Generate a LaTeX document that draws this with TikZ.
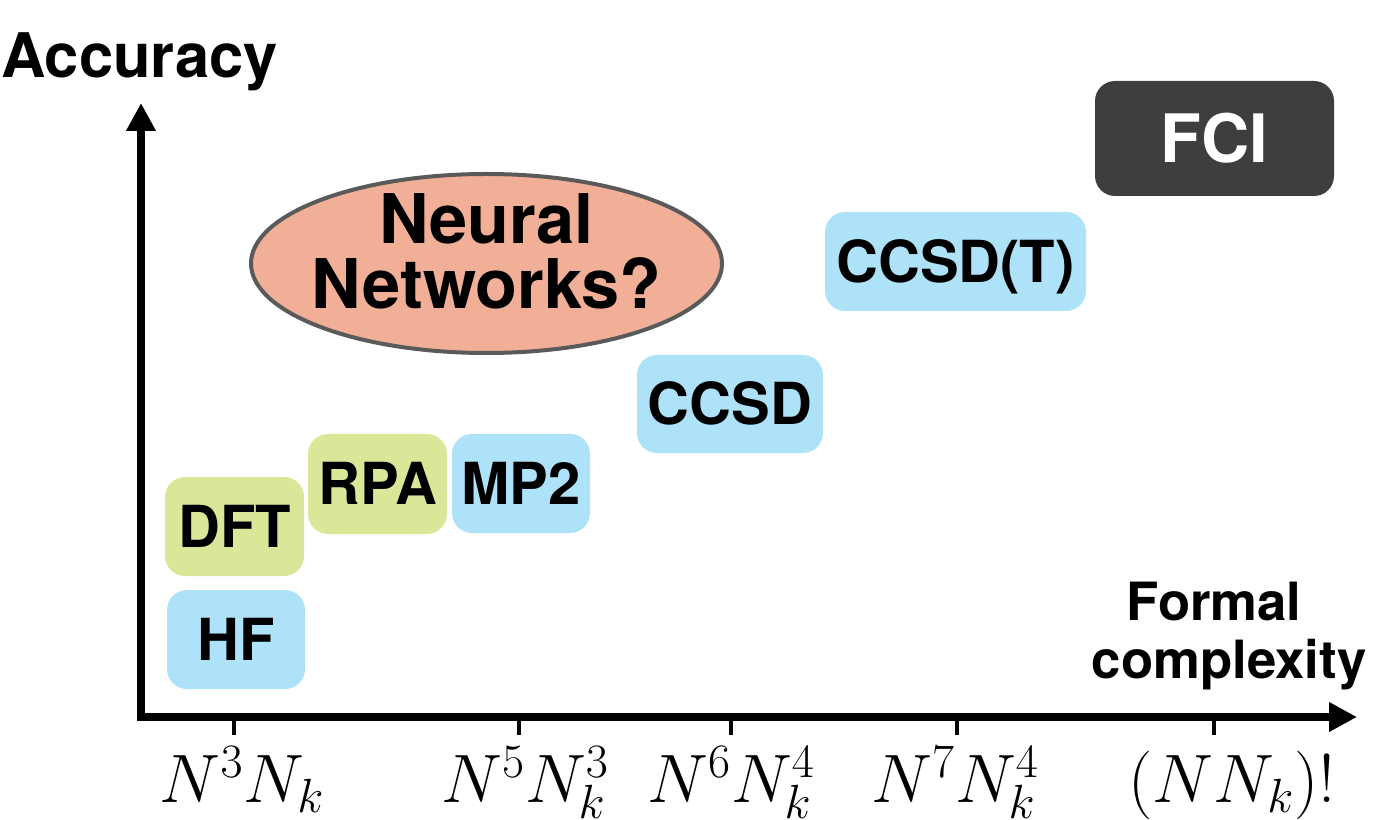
\RequirePackage{fix-cm}
\documentclass[tikz,border=0pt]{standalone}
\usepackage{fontspec}
\setsansfont{TeX Gyre Heros}
\usetikzlibrary{arrows.meta,shapes.geometric}
\definecolor{boxblue}{HTML}{AEE2F8}
\definecolor{boxgreen}{HTML}{D8E898}
\definecolor{nnsalmon}{HTML}{F2AF98}
\definecolor{ellgray}{HTML}{5A5A5A}
\definecolor{fcigray}{HTML}{3E3E3E}
\begin{document}
\begin{tikzpicture}[x=0.02cm,y=-0.02cm,
  box/.style={rounded corners=0.4cm, inner sep=0pt, text height=23.5pt, text depth=0pt,
    font=\sffamily\bfseries\fontsize{33}{40}\selectfont},
  bluebox/.style={box, fill=boxblue},
  greenbox/.style={box, fill=boxgreen},
  axisline/.style={line width=0.16cm, line join=miter,
    {Triangle[length=0.56cm,width=0.56cm]}-{Triangle[length=0.56cm,width=0.56cm]}},
  tickline/.style={line width=0.08cm},
  ticklbl/.style={anchor=base, inner sep=0pt, font=\fontsize{39}{46}\selectfont},
  axlbl/.style={inner sep=0pt, font=\sffamily\bfseries\fontsize{30}{33}\selectfont}]
\useasboundingbox (0,0) rectangle (1375,820);

% axes
\coordinate (O) at (141,717);
\coordinate (ytip) at (141,103);
\coordinate (xtip) at (1357,717);
\draw[axisline] (ytip) -- (O) -- (xtip);

% ticks
\foreach \x/\n in {234/a,519/b,731/c,957/d,1214/e}{
  \coordinate (tt\n) at (\x,717);
  \coordinate (tb\n) at (\x,735);
  \draw[tickline] (tt\n) -- (tb\n);
}

% tick labels
\node[ticklbl] (l1) at (242,802) {$N^3N_k$};
\node[ticklbl] (l2) at (525,802) {$N^5N_k^3$};
\node[ticklbl] (l3) at (731,802) {$N^6N_k^4$};
\node[ticklbl] (l4) at (955,802) {$N^7N_k^4$};
\node[ticklbl] (l5) at (1232,802) {$(NN_k)!$};

% axis labels
\node[inner sep=0pt, anchor=base west, font=\sffamily\bfseries\fontsize{35}{40}\selectfont] (acc) at (1,78) {Accuracy};
\node[axlbl, anchor=base, align=center] (fc) at (1229,678) {Formal\hspace*{0.6cm}\\complexity};

% method boxes
\node[bluebox, minimum width=138*0.02cm, minimum height=99*0.02cm] (hf) at (236,639.5) {HF};
\node[greenbox, minimum width=139*0.02cm, minimum height=99*0.02cm] (dft) at (234.5,526.5) {DFT};
\node[greenbox, minimum width=139*0.02cm, minimum height=100*0.02cm] (rpa) at (377.5,484) {RPA};
\node[bluebox, minimum width=138*0.02cm, minimum height=99*0.02cm] (mp2) at (521,483.5) {MP2};
\node[bluebox, minimum width=186*0.02cm, minimum height=98*0.02cm] (ccsd) at (730,404) {CCSD};
\node[bluebox, minimum width=261*0.02cm, minimum height=99*0.02cm] (ccsdt) at (955.5,261.5) {CCSD(T)};
\node[box, fill=fcigray, text=white, text height=27pt, font=\sffamily\bfseries\fontsize{38}{44}\selectfont,
  minimum width=239*0.02cm, minimum height=115*0.02cm] (fci) at (1214.5,138.5) {FCI};

% neural networks ellipse
\node[ellipse, draw=ellgray, line width=0.08cm, fill=nnsalmon, inner sep=0pt,
  minimum width=471*0.02cm, minimum height=179*0.02cm] (nn) at (486.5,263.5) {};
\node[align=center, inner sep=0pt, font=\sffamily\bfseries\fontsize{39}{36.9}\selectfont]
  (nnl) at (nn.center) [yshift=0.24cm] {Neural\\Networks?};
\end{tikzpicture}
\end{document}
